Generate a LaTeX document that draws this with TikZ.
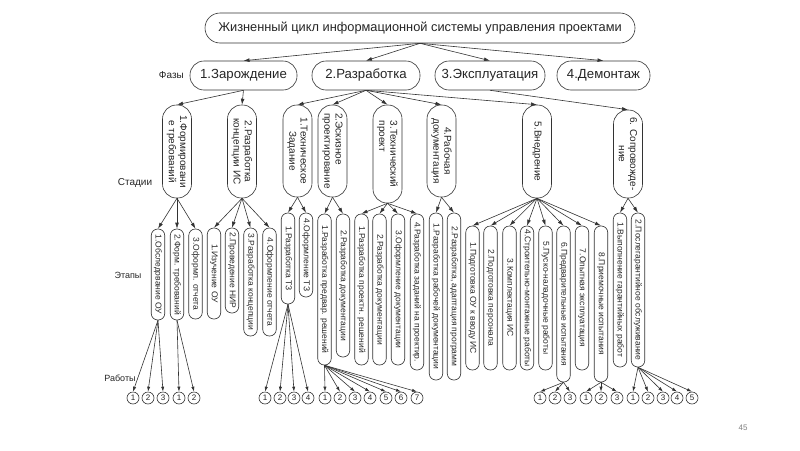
\documentclass[tikz,border=0pt]{standalone}
\usepackage{fontspec}
\setmainfont{Liberation Sans}
\usetikzlibrary{arrows.meta,calc}
\newcommand{\etapbox}[5]{%
  \node[etp, minimum height={#4-#3}] (#1) at (#2,{(#3+#4)/2}) {};
  \node[etxt] at (#1) {#5};}
\newcommand{\stagebox}[6]{%
  \node[stg, minimum height={#4-#3}] (#1) at (#2,{(#3+#4)/2}) {};
  \node[stxt, align=#6] at (#1) {#5};}
\begin{document}
\begin{tikzpicture}[x=1pt,y=-1pt,
  every node/.style={text=black!85},
  ln/.style={draw=black!80, line width=0.6pt},
  arr/.style={ln, -{Latex[length=6pt,width=3.8pt]}},
  sarr/.style={ln, -{Latex[length=5pt,width=3.2pt]}},
  titlebox/.style={ln, rounded corners=15pt, minimum width=430pt, minimum height=30pt, inner sep=0pt, font=\fontsize{12.8}{15}\selectfont},
  phase/.style={ln, rounded corners=14pt, minimum height=29pt, inner sep=0pt, font=\fontsize{13.2}{15}\selectfont},
  stg/.style={ln, rounded corners=14pt, minimum width=29pt, inner sep=0pt},
  stxt/.style={rotate=-90, inner sep=0pt, font=\fontsize{10}{11.2}\selectfont},
  etp/.style={ln, rounded corners=6.5pt, minimum width=13.5pt, inner sep=0pt},
  etxt/.style={rotate=-90, inner sep=0pt, font=\fontsize{8.5}{10}\selectfont},
  circ/.style={ln, circle, minimum size=12pt, inner sep=0pt, font=\fontsize{8}{8}\selectfont},
  lbl/.style={inner sep=0pt}
]
\fill[white] (0,0) rectangle (800,450);
\useasboundingbox (0,0) rectangle (800,450);

% title and phases
\node[titlebox] (t) at (420,28) {Жизненный цикл информационной системы управления проектами};
\node[phase, minimum width=107pt] (p1) at (243.5,75.5) {1.Зарождение};
\node[phase, minimum width=108pt] (p2) at (366,75.5) {2.Разработка};
\node[phase, minimum width=110pt] (p3) at (490,75.5) {3.Эксплуатация};
\node[phase, minimum width=93pt] (p4) at (603.5,75.5) {4.Демонтаж};
\foreach \p in {p1,p2,p3,p4} \draw[arr] (t.south) -- (\p.north);

% labels
\node[lbl, anchor=east, font=\fontsize{10}{12}\selectfont] (lf) at (184,75.5) {Фазы};
\node[lbl, font=\fontsize{10}{12}\selectfont] (ls) at (135,183) {Стадии};
\node[lbl, font=\fontsize{9}{11}\selectfont] (le) at (128,275) {Этапы};
\node[lbl, font=\fontsize{9}{11}\selectfont] (lr) at (120,378) {Работы};
\node[lbl, font=\fontsize{8}{10}\selectfont, text=black!50] (pg) at (743,428) {45};

% stages
\stagebox{s1}{177}{105}{198}{1.Формировани\\е требований}{center}
\stagebox{s2}{242}{105}{198}{2.Разработка\\концепции ИС}{center}
\stagebox{s21}{297.5}{105}{197}{1.Техническое\\Задание}{center}
\stagebox{s22}{332.5}{105}{197}{2.Эскизное\\проектирование}{left}
\stagebox{s23}{387.5}{105}{203}{3.Технический\\проект}{left}
\stagebox{s24}{441.5}{105}{197}{4.Рабочая\\документация}{center}
\stagebox{s5}{537}{105}{198}{5.Внедрение}{center}
\stagebox{s6}{628}{110}{198}{6. Сопровожде-\\ние}{center}

\foreach \s in {s1,s2} \draw[arr] (p1.south) -- (\s.north);
\foreach \s in {s21,s22,s23,s24,s5} \draw[arr] (p2.south) -- (\s.north);
\draw[arr] (p3.south) -- (s6.north);

% etaps
\etapbox{e11}{158}{229}{320}{1.Обследование ОУ}
\etapbox{e12}{177}{229}{320}{2.Форм. требований}
\etapbox{e13}{195.5}{229}{319}{3.Оформл. отчета}
\etapbox{e21}{214}{228}{319}{1.Изучение ОУ}
\etapbox{e22}{232}{228}{313}{2.Проведение НИР}
\etapbox{e23}{250.5}{228}{336}{3.Разработка концепции}
\etapbox{e24}{269.5}{228}{336}{4.Оформление отчета}
\etapbox{f11}{288}{213}{304}{1.Разработка ТЗ}
\etapbox{f12}{306}{213}{297}{4.Оформление ТЗ}
\etapbox{f21}{324.5}{214}{365}{1.Разработка предвар. решений}
\etapbox{f22}{343}{214}{357}{2.Разработка документации}
\etapbox{f31}{361.5}{214}{365}{1.Разработка проектн. решений}
\etapbox{f32}{379.5}{214}{365}{2.Разработка документации}
\etapbox{f33}{398}{214}{365}{3.Оформление документации}
\etapbox{f34}{417}{214}{370}{4.Разработка заданий на проектир.}
\etapbox{f41}{436}{213}{380}{1.Разработка рабочей документации}
\etapbox{f42}{454}{213}{380}{2.Разработка, адаптация программ}
\etapbox{g1}{472.5}{226}{370}{1.Подготовка ОУ к вводу ИС}
\etapbox{g2}{490.5}{226}{370}{2.Подготовка персонала}
\etapbox{g3}{509.5}{226}{370}{3.Комплектация ИС}
\etapbox{g4}{527}{226}{370}{4.Строительно-монтажные работы}
\etapbox{g5}{545.5}{226}{370}{5.Пуско-наладочные работы}
\etapbox{g6}{563.5}{226}{382}{6.Предварительные испытания}
\etapbox{g7}{582}{226}{370}{7.Опытная эксплуатация}
\etapbox{g8}{601}{226}{382}{8.Приемочные испытания}
\etapbox{h1}{620}{213}{367}{1.Выполнение гарантийных работ}
\etapbox{h2}{638}{213}{367}{2.Послегарантийное обслуживание}

\foreach \e in {e11,e12,e13} \draw[arr] (s1.south) -- (\e.north);
\foreach \e in {e21,e22,e23,e24} \draw[arr] (s2.south) -- (\e.north);
\foreach \e in {f11,f12} \draw[arr] (s21.south) -- (\e.north);
\foreach \e in {f21,f22} \draw[arr] (s22.south) -- (\e.north);
\foreach \e in {f31,f32,f33,f34} \draw[arr] (s23.south) -- (\e.north);
\foreach \e in {f41,f42} \draw[arr] (s24.south) -- (\e.north);
\foreach \e in {g1,g2,g3,g4,g5,g6,g7,g8} \draw[arr] (s5.south) -- (\e.north);
\foreach \e in {h1,h2} \draw[arr] (s6.south) -- (\e.north);

% works
\foreach \n/\x/\t in {a1/133/1,a2/148/2,a3/163/3,b1/179/1,b2/194/2,
  c1/265/1,c2/280/2,c3/294/3,c4/308/4,
  d1/325/1,d2/340/2,d3/355/3,d4/370/4,d5/386/5,d6/401/6,d7/417/7,
  k1/540/1,k2/555/2,k3/570/3,m1/586/1,m2/601/2,m3/617/3,
  n1/633/1,n2/648/2,n3/663/3,n4/677/4,n5/692/5}
  \node[circ] (\n) at (\x,398) {\t};

\foreach \c in {a1,a2,a3} \draw[sarr] (e11.south) -- (\c.north);
\foreach \c in {b1,b2} \draw[sarr] (e12.south) -- (\c.north);
\foreach \c in {c1,c2,c3,c4} \draw[sarr] (f11.south) -- (\c.north);
\foreach \c in {d1,d2,d3,d4,d5,d6,d7} \draw[sarr] (f21.south) -- (\c.north);
\foreach \c in {k1,k2,k3} \draw[sarr] (g6.south) -- (\c.north);
\foreach \c in {m1,m2,m3} \draw[sarr] (g8.south) -- (\c.north);
\foreach \c in {n1,n2,n3,n4,n5} \draw[sarr] (h2.south) -- (\c.north);
\end{tikzpicture}
\end{document}
